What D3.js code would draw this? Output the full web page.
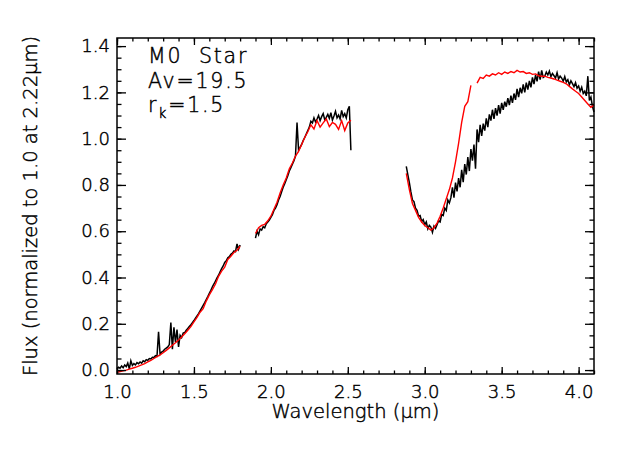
<!DOCTYPE html>
<html>
<head>
<meta charset="utf-8">
<script src="https://cdn.jsdelivr.net/npm/d3@7"></script>
<style>
body { margin: 0; background: #fff; }
text { font-family: "DejaVu Sans", sans-serif; font-weight: 200; fill: #000; stroke: #000; stroke-width: 0.45px; }
</style>
</head>
<body>
<div id="chart"></div>
<script>
// observed spectrum (black), sampled every 0.01 um from the start of each piece
var obsStep = 0.01;
var obsStart = [1.00, 1.90, 2.88];
var obsSeg1 = [
    0.005, 0.012, 0.008, 0.018, 0.010, 0.022, 0.015, 0.030, 0.005, 0.040,
    0.020, 0.028, 0.022, 0.032, 0.027, 0.035, 0.030, 0.040, 0.036, 0.045,
    0.042, 0.050, 0.048, 0.055, 0.054, 0.062, 0.060, 0.165, 0.068, 0.078,
    0.082, 0.090, 0.095, 0.100, 0.110, 0.205, 0.090, 0.185, 0.120, 0.175,
    0.100, 0.150, 0.140, 0.160, 0.162, 0.172, 0.180, 0.188, 0.196, 0.205,
    0.214, 0.224, 0.234, 0.244, 0.256, 0.268, 0.280, 0.292, 0.305, 0.318,
    0.332, 0.345, 0.360, 0.372, 0.385, 0.398, 0.410, 0.425, 0.438, 0.450,
    0.465, 0.472, 0.485, 0.490, 0.500, 0.505, 0.515, 0.512, 0.545, 0.522,
    0.540
];
var obsSeg2 = [
    0.570, 0.600, 0.585, 0.610, 0.605, 0.620, 0.615, 0.632, 0.640, 0.648,
    0.660, 0.672, 0.690, 0.700, 0.715, 0.735, 0.750, 0.770, 0.790, 0.805,
    0.822, 0.840, 0.860, 0.875, 0.890, 0.905, 0.925, 1.070, 0.950, 0.962,
    0.975, 0.992, 1.005, 1.020, 1.035, 1.050, 1.075, 1.068, 1.090, 1.072,
    1.085, 1.100, 1.078, 1.095, 1.108, 1.082, 1.092, 1.105, 1.088, 1.112,
    1.080, 1.098, 1.118, 1.090, 1.102, 1.085, 1.122, 1.095, 1.108, 1.090,
    1.125, 1.140, 0.950
];
var obsSeg3 = [
    0.880, 0.845, 0.810, 0.770, 0.735, 0.728, 0.700, 0.690, 0.665, 0.668,
    0.642, 0.650, 0.628, 0.640, 0.610, 0.625, 0.618, 0.595, 0.622, 0.612,
    0.628, 0.645, 0.640, 0.672, 0.668, 0.700, 0.690, 0.735, 0.722, 0.745,
    0.790, 0.745, 0.810, 0.772, 0.830, 0.790, 0.865, 0.812, 0.890, 0.845,
    0.920, 0.860, 0.955, 0.905, 0.975, 0.870, 1.040, 0.985, 1.060, 1.012,
    1.065, 1.035, 1.088, 1.050, 1.105, 1.078, 1.125, 1.085, 1.132, 1.100,
    1.145, 1.108, 1.155, 1.125, 1.160, 1.138, 1.175, 1.145, 1.186, 1.155,
    1.195, 1.168, 1.215, 1.180, 1.220, 1.196, 1.235, 1.200, 1.242, 1.212,
    1.250, 1.222, 1.265, 1.236, 1.275, 1.248, 1.290, 1.255, 1.295, 1.265,
    1.270, 1.288, 1.275, 1.292, 1.268, 1.282, 1.272, 1.262, 1.285, 1.258,
    1.270, 1.262, 1.248, 1.268, 1.245, 1.255, 1.232, 1.250, 1.238, 1.225,
    1.242, 1.218, 1.228, 1.205, 1.222, 1.195, 1.205, 1.185, 1.270, 1.165,
    1.180, 1.140, 1.115
];

// model spectrum (red), sampled every 0.02 um
var modStep = 0.02;
var modStart = [1.00, 1.90, 2.88, 3.34];
var modSeg1 = [
    -0.010, -0.006, -0.003, 0.000, 0.004, 0.008, 0.012, 0.017, 0.022, 0.028,
    0.035, 0.042, 0.050, 0.058, 0.066, 0.075, 0.085, 0.096, 0.107, 0.118,
    0.130, 0.143, 0.157, 0.172, 0.188, 0.208, 0.228, 0.250, 0.265, 0.298,
    0.325, 0.348, 0.372, 0.405, 0.428, 0.445, 0.478, 0.492, 0.508, 0.518,
    0.535
];
var modSeg2 = [
    0.590, 0.615, 0.625, 0.630, 0.645, 0.665, 0.695, 0.725, 0.765, 0.800,
    0.830, 0.870, 0.895, 0.925, 0.945, 0.975, 1.005, 1.030, 1.060, 1.042,
    1.078, 1.050, 1.068, 1.085, 1.052, 1.070, 1.062, 1.040, 1.078, 1.035,
    1.068, 1.080
];
var modSeg3 = [
    0.850, 0.780, 0.720, 0.690, 0.660, 0.640, 0.625, 0.615, 0.605, 0.615,
    0.635, 0.665, 0.700, 0.740, 0.780, 0.830, 0.900, 0.980, 1.070, 1.140,
    1.160, 1.230
];
var modSeg4 = [
    1.240, 1.265, 1.260, 1.275, 1.270, 1.280, 1.275, 1.285, 1.278, 1.288,
    1.282, 1.290, 1.285, 1.295, 1.288, 1.290, 1.282, 1.285, 1.278, 1.280,
    1.272, 1.270, 1.270, 1.265, 1.262, 1.258, 1.253, 1.248, 1.243, 1.237,
    1.226, 1.215, 1.205, 1.195, 1.180, 1.165, 1.150, 1.135, 1.145
];

var xMajor = [1.0, 1.5, 2.0, 2.5, 3.0, 3.5, 4.0];
var xMinor = d3.range(10, 42).map(d => d / 10);
var yMajor = [0.0, 0.2, 0.4, 0.6, 0.8, 1.0, 1.2, 1.4];
var yMinor = d3.range(0, 29).map(d => d / 20);

var xTitle = "Wavelength (\u03bcm)";
var yTitle = "Flux (normalized to 1.0 at 2.22\u03bcm)";

// set the dimensions and margins of the graph
var margin = { top: 38, right: 36, bottom: 76, left: 117 },
    width = 630 - margin.left - margin.right,
    height = 450 - margin.top - margin.bottom;

var svg = d3.select("#chart")
    .append("svg")
    .attr("width", 630)
    .attr("height", 450)
    .append("g")
    .attr("transform", "translate(" + margin.left + "," + margin.top + ")");

var x = d3.scaleLinear().domain([1.0, 4.1]).range([0, width]);
var y = d3.scaleLinear().domain([-0.017, 1.435]).range([height, 0]);

function toPoints(vals, start, step) {
    return vals.map((v, i) => ({ w: start + i * step, f: v }));
}

var line = d3.line()
    .x(function (d) { return x(d.w) })
    .y(function (d) { return y(d.f) });

var obsPieces = [obsSeg1, obsSeg2, obsSeg3].map((s, i) => toPoints(s, obsStart[i], obsStep));
var modPieces = [modSeg1, modSeg2, modSeg3, modSeg4].map((s, i) => toPoints(s, modStart[i], modStep));

// observed spectrum
svg.append("g")
    .selectAll("path")
    .data(obsPieces)
    .enter()
    .append("path")
    .attr("fill", "none")
    .attr("stroke", "#000")
    .attr("stroke-width", 1.5)
    .attr("d", line);

// model spectrum
svg.append("g")
    .selectAll("path")
    .data(modPieces)
    .enter()
    .append("path")
    .attr("fill", "none")
    .attr("stroke", "#ff0000")
    .attr("stroke-width", 1.4)
    .attr("d", line);

// axes: ticks point inward on all four sides
function tickAxis(axis, values, size, labels) {
    var a = axis.tickValues(values).tickSize(-size).tickSizeOuter(0);
    if (!labels) a.tickFormat("");
    return a;
}

var fmt = d3.format(".1f");

svg.append("g")
    .attr("transform", "translate(0," + height + ")")
    .call(tickAxis(d3.axisBottom(x), xMajor, 7, true).tickFormat(fmt).tickPadding(11));
svg.append("g")
    .attr("transform", "translate(0," + height + ")")
    .call(tickAxis(d3.axisBottom(x), xMinor, 3.5, false));
svg.append("g")
    .call(tickAxis(d3.axisTop(x), xMajor, 7, false));
svg.append("g")
    .call(tickAxis(d3.axisTop(x), xMinor, 3.5, false));

svg.append("g")
    .call(tickAxis(d3.axisLeft(y), yMajor, 9, true).tickFormat(fmt).tickPadding(7));
svg.append("g")
    .call(tickAxis(d3.axisLeft(y), yMinor, 4.5, false));
svg.append("g")
    .attr("transform", "translate(" + width + ",0)")
    .call(tickAxis(d3.axisRight(y), yMajor, 9, false));
svg.append("g")
    .attr("transform", "translate(" + width + ",0)")
    .call(tickAxis(d3.axisRight(y), yMinor, 4.5, false));

svg.selectAll(".domain").remove();
svg.selectAll(".tick line").attr("stroke", "#000").attr("stroke-width", 1.3);
svg.selectAll(".tick text")
    .style("font-family", "DejaVu Sans, sans-serif")
    .style("font-size", "18px")
    .attr("fill", "#000");

svg.append("rect")
    .attr("width", width)
    .attr("height", height)
    .attr("fill", "none")
    .attr("stroke", "#000")
    .attr("stroke-width", 1.5);

// axis titles
svg.append("text")
    .attr("x", width / 2)
    .attr("y", height + 44)
    .attr("text-anchor", "middle")
    .style("font-size", "19.5px")
    .text(xTitle);

svg.append("text")
    .attr("transform", "translate(" + (37 - margin.left) + "," + (height / 2) + ") rotate(-90)")
    .attr("text-anchor", "middle")
    .style("font-size", "19.5px")
    .text(yTitle);

// annotation
var note = svg.append("g")
    .attr("transform", "translate(31,0)")
    .style("font-size", "20.5px")
    .style("letter-spacing", "1.8px");
note.append("text").attr("y", 25).style("white-space", "pre").text("M0  Star");
note.append("text").attr("y", 49.5).text("Av=19.5");
var rk = note.append("text").attr("y", 74);
rk.append("tspan").text("r");
rk.append("tspan").attr("dy", 6).style("font-size", "14px").text("k");
rk.append("tspan").attr("dy", -6).text("=1.5");
</script>
</body>
</html>
